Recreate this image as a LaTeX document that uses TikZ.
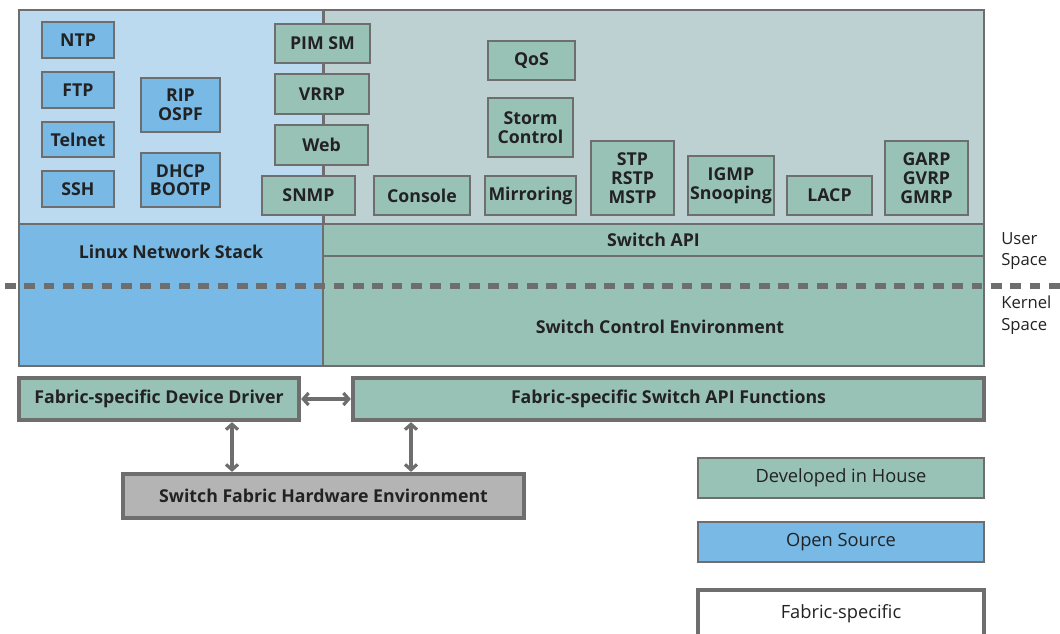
\documentclass[tikz,border=0pt]{standalone}
\usepackage{fontspec}
\setmainfont{Open Sans}
\usetikzlibrary{arrows.meta}
\definecolor{lblue}{HTML}{BBDAF0}
\definecolor{obl}{HTML}{78B9E6}
\definecolor{grn}{HTML}{99C2B6}
\definecolor{ggray}{HTML}{BDD1D3}
\definecolor{edge}{HTML}{6E6E6E}
\definecolor{hwgray}{HTML}{B4B4B4}
\definecolor{txt}{HTML}{222222}
\newcommand\mybox[7]{\node[#1,minimum width={(#4-#2)*0.75pt},minimum height={(#5-#3)*0.75pt}] (#6) at ({(#2+#4)/2},{(#3+#5)/2}) {#7};}
\tikzset{
  bfont/.style={font=\bfseries\fontsize{13.3}{14}\selectfont},
  base/.style={draw=edge,line width=1.5pt,inner sep=0pt,align=center,text=txt,bfont},
  bluebox/.style={base,fill=obl},
  grnbox/.style={base,fill=grn},
  region/.style={draw=edge,line width=1.2pt,inner sep=0pt,align=center,text=txt,bfont},
  thick box/.style={draw=edge,line width=3.2pt,inner sep=0pt,align=center,text=txt,bfont},
  lfont/.style={font=\fontsize{13.7}{14}\selectfont},
  legend/.style={draw=edge,line width=1.5pt,inner sep=0pt,align=center,text=txt,lfont},
  arr/.style={draw=edge,line width=2.4pt,{Straight Barb[length=4pt,width=9pt]}-{Straight Barb[length=4pt,width=9pt]}},
  side/.style={align=left,text=txt,font=\fontsize{12.5}{16}\selectfont,inner sep=0pt,anchor=west}
}
\begin{document}
\begin{tikzpicture}[x=0.75pt,y=-0.75pt]
\useasboundingbox (0,0) rectangle (1060,633);
% backgrounds
\mybox{region,fill=lblue}{19}{10}{323}{224}{userL}{}
\mybox{region,fill=ggray}{323}{10}{984}{224}{userR}{}
\mybox{region,fill=obl}{19}{224}{323}{366}{linux}{}
\node[text=txt,bfont] (linuxlbl) at (171,252) {Linux Network Stack};
\mybox{region,fill=grn}{323}{224}{984}{256}{swapi}{Switch API}
\mybox{region,fill=grn}{323}{256}{984}{366}{sce}{}
\node[text=txt,bfont] (scelbl) at (660,327) {Switch Control Environment};
% divider line behind the column of boxes
\draw[edge,line width=1.2pt] (userL.north east) -- (userL.south east);
% left blue boxes
\mybox{bluebox}{42}{22}{114}{58}{ntp}{NTP}
\mybox{bluebox}{42}{72}{114}{108}{ftp}{FTP}
\mybox{bluebox}{42}{122}{114}{157}{telnet}{Telnet}
\mybox{bluebox}{42}{171}{114}{207}{ssh}{SSH}
\mybox{bluebox}{141}{78}{220}{132}{rip}{RIP\\OSPF}
\mybox{bluebox}{141}{153}{220}{207}{dhcp}{DHCP\\BOOTP}
% green boxes
\mybox{grnbox}{275}{24}{370}{63}{pim}{PIM SM}
\mybox{grnbox}{275}{74}{369}{114}{vrrp}{VRRP}
\mybox{grnbox}{275}{125}{368}{165}{web}{Web}
\mybox{grnbox}{262}{176}{355}{215}{snmp}{SNMP}
\mybox{grnbox}{374}{176}{470}{215}{console}{Console}
\mybox{grnbox}{485}{176}{576}{215}{mirror}{Mirroring}
\mybox{grnbox}{488}{41}{575}{80}{qos}{QoS}
\mybox{grnbox}{488}{98}{573}{157}{storm}{Storm\\Control}
\mybox{grnbox}{591}{141}{674}{215}{stp}{STP\\RSTP\\MSTP}
\mybox{grnbox}{688}{156}{774}{215}{igmp}{IGMP\\Snooping}
\mybox{grnbox}{787}{176}{872}{215}{lacp}{LACP}
\mybox{grnbox}{885}{141}{968}{215}{garp}{GARP\\GVRP\\GMRP}
% user/kernel divider
\coordinate (dl) at (5,286);
\coordinate (dr) at (1060,286);
\draw[edge,line width=3.8pt,dash pattern=on 8pt off 6.5pt] (dl) -- (dr);
\node[side] (user) at (1001,251) {User\\Space};
\node[side] (kernel) at (1001,315) {Kernel\\Space};
% fabric-specific layer
\mybox{thick box,fill=grn}{19}{378}{299}{420}{dd}{Fabric-specific Device Driver}
\mybox{thick box,fill=grn}{353}{378}{984}{420}{apif}{Fabric-specific Switch API Functions}
\mybox{thick box,fill=hwgray}{123}{474}{524}{518}{hw}{Switch Fabric Hardware Environment}
\draw[arr] (dd.east) -- (apif.west);
\draw[arr] (232,0 |- dd.south) -- (232,0 |- hw.north);
\draw[arr] (411,0 |- apif.south) -- (411,0 |- hw.north);
% legend
\mybox{legend,fill=grn}{698}{458}{984}{498}{lgdev}{Developed in House}
\mybox{legend,fill=obl}{698}{522}{984}{562}{lgos}{Open Source}
\begin{scope}
\clip (690,580) rectangle (995,633);
\mybox{legend,line width=3.2pt,fill=white}{698}{590}{984}{650}{lgfab}{}
\end{scope}
\node[text=txt,lfont] (lgfablbl) at (841,614) {Fabric-specific};
\end{tikzpicture}
\end{document}
